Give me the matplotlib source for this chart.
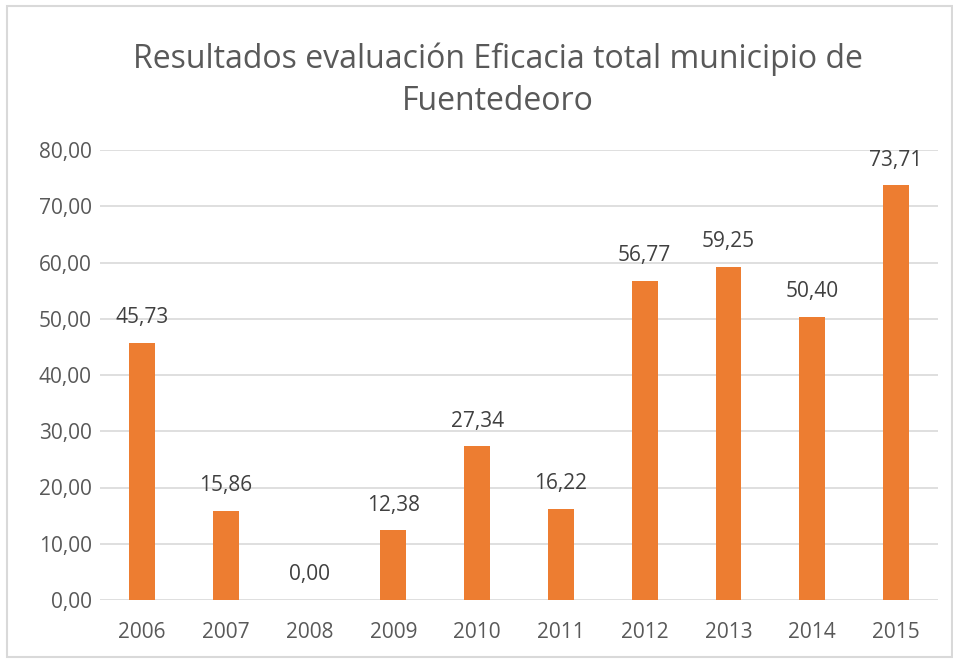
import matplotlib.pyplot as plt
from matplotlib.patches import Rectangle

years = ['2006', '2007', '2008', '2009', '2010', '2011', '2012', '2013', '2014', '2015']
values = [45.73, 15.86, 0.00, 12.38, 27.34, 16.22, 56.77, 59.25, 50.40, 73.71]

plt.rcParams['font.family'] = ['Open Sans', 'DejaVu Sans']

W, H = 954, 659
fig = plt.figure(figsize=(W / 100, H / 100), dpi=100)
ax = fig.add_axes([100 / W, 1 - 600 / H, 838 / W, 450 / H])

x = range(len(years))
ax.bar(x, values, width=0.31, color='#ED7D31', zorder=3)
for i, v in enumerate(values):
    ax.text(i, v + 2.6, f'{v:.2f}'.replace('.', ','), ha='center', va='bottom',
            fontsize=15, color='#404040')

ax.set_xlim(-0.5, len(years) - 0.5)
ax.set_ylim(0, 80)
ax.set_yticks(range(0, 81, 10))
ax.set_yticklabels([f'{t},00' for t in range(0, 81, 10)])
ax.set_xticks(list(x))
ax.set_xticklabels(years)
ax.grid(axis='y', color='#d9d9d9', linewidth=1.2, zorder=0)
for s in ax.spines.values():
    s.set_visible(False)
ax.tick_params(length=0, labelsize=15, labelcolor='#595959')
ax.tick_params(axis='y', pad=6)
ax.tick_params(axis='x', pad=16)

fig.text(498 / W, 1 - 59 / H, 'Resultados evaluación Eficacia total municipio de',
         ha='center', va='center', fontsize=23, color='#595959')
fig.text(498 / W, 1 - 102 / H, 'Fuentedeoro',
         ha='center', va='center', fontsize=23, color='#595959')

fig.patches.append(Rectangle((7 / W, 2 / H), (W - 9) / W, (H - 8) / H,
                             transform=fig.transFigure, fill=False,
                             edgecolor='#d9d9d9', linewidth=1.5))

fig.savefig('out.png', dpi=100)
